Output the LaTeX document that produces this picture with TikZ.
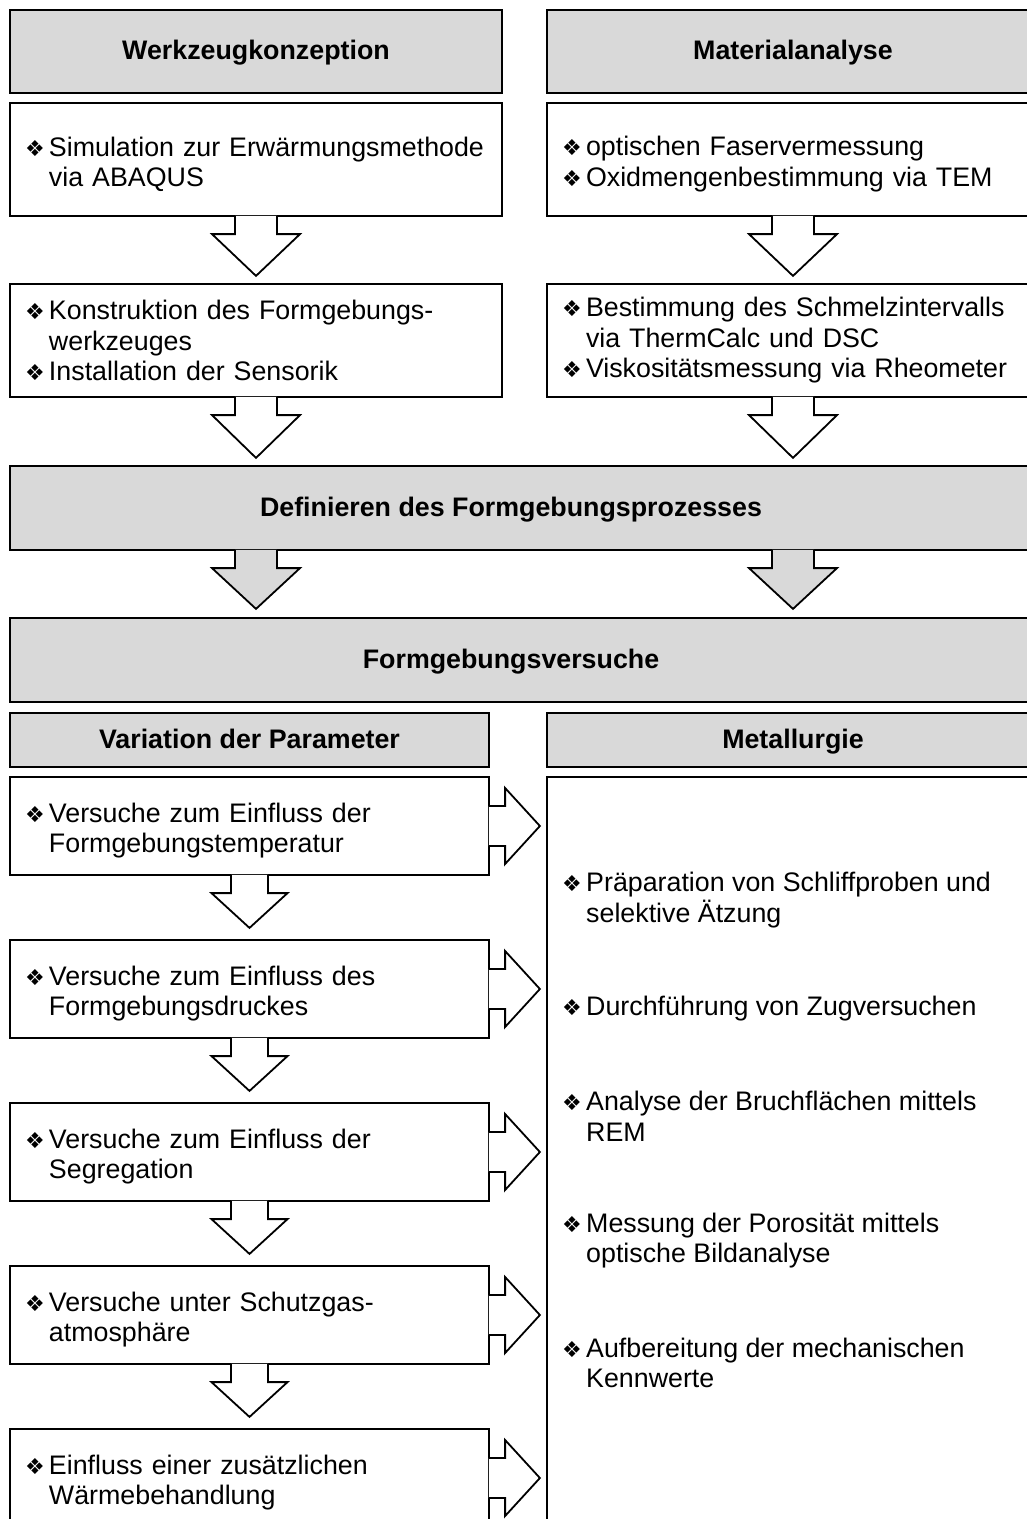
\documentclass[tikz,border=0pt]{standalone}
\usepackage{fontspec}
\setmainfont{Liberation Sans}
\newfontfamily\symfont{DejaVu Sans}
\usetikzlibrary{calc}
\definecolor{boxgray}{RGB}{217,217,217}
\setlength{\parindent}{0pt}

\newcommand{\bul}{\makebox[24pt][l]{\symfont\fontsize{22pt}{22pt}\selectfont ❖}}
\newcommand{\gap}{\makebox[24pt]{}}
\newcommand{\up}{\rule{0pt}{29pt}}

% block arrows: style, base, tip, shaft half width, head half width, shaft length
\newcommand{\blockdown}[6]{%
  \path[#1] let \p1=#2, \p2=#3 in
    (\x1-#4pt,\y1+1.2pt) -- (\x1-#4pt,\y1-#6pt) -- (\x1-#5pt,\y1-#6pt) -- (\x1,\y2)
    -- (\x1+#5pt,\y1-#6pt) -- (\x1+#4pt,\y1-#6pt) -- (\x1+#4pt,\y1+1.2pt);
}
\newcommand{\blockright}[6]{%
  \path[#1] let \p1=#2, \p2=#3 in
    (\x1-1.2pt,\y1+#4pt) -- (\x1+#6pt,\y1+#4pt) -- (\x1+#6pt,\y1+#5pt) -- (\x2,\y1)
    -- (\x1+#6pt,\y1-#5pt) -- (\x1+#6pt,\y1-#4pt) -- (\x1-1.2pt,\y1-#4pt);
}

\tikzset{
  headbox/.style={draw, line width=2.2pt, fill=boxgray, inner sep=0pt, text height=20pt, text depth=4pt, font=\bfseries\fontsize{26.8pt}{30.5pt}\selectfont},
  itembox/.style={draw, line width=2.2pt, fill=white, text width=462pt, inner xsep=15pt, align=left, font=\fontsize{26.8pt}{30.5pt}\selectfont},
  itemtext/.style={inner sep=0pt, align=left, anchor=west, font=\fontsize{26.8pt}{30.5pt}\selectfont},
  arr/.style={draw, line width=1.8pt, fill=white, line join=miter},
  grayarr/.style={arr, fill=boxgray},
}

\begin{document}
\begin{tikzpicture}[x=1pt,y=-1pt]
  \useasboundingbox (0,0) rectangle (1027,1519);
  \clip (0,0) rectangle (1027,1519);

  \node[headbox, minimum width=492pt, minimum height=83pt] (wk) at (256,51.5) {Werkzeugkonzeption};
  \node[headbox, minimum width=492pt, minimum height=83pt] (ma) at (793,51.5) {Materialanalyse};

  \node[itembox, minimum height=113pt] (wk1) at (256,159.5) {\up\bul Simulation zur Erwärmungsmethode\\\gap via ABAQUS};
  \node[itembox, minimum height=113pt] (ma1) at (793,159.5) {\up\bul optischen Faservermessung\\\bul Oxidmengenbestimmung via TEM};

  \node[itembox, minimum height=113pt] (wk2) at (256,340.5) {\bul Konstruktion des Formgebungs-\\\gap werkzeuges\\\bul Installation der Sensorik};
  \node[itembox, minimum height=113pt] (ma2) at (793,340.5) {\bul Bestimmung des Schmelzintervalls\\\gap via ThermCalc und DSC\\\bul Viskositätsmessung via Rheometer};

  \node[headbox, minimum width=1029pt, minimum height=84pt] (def) at (524.5,508) {};
  \node[headbox, draw=none, fill=none] (deft) at (511,508) {Definieren des Formgebungsprozesses};
  \node[headbox, minimum width=1029pt, minimum height=84pt] (fv) at (524.5,660) {};
  \node[headbox, draw=none, fill=none] (fvt) at (511,660) {Formgebungsversuche};

  \node[headbox, minimum width=479pt, minimum height=54pt] (vp) at (249.5,740) {Variation der Parameter};
  \node[headbox, minimum width=492pt, minimum height=54pt] (mth) at (793,740) {Metallurgie};

  \node[itembox, text width=449pt, minimum height=98pt] (v1) at (249.5,826) {\up\bul Versuche zum Einfluss der\\\gap Formgebungstemperatur};
  \node[itembox, text width=449pt, minimum height=98pt] (v2) at (249.5,989) {\up\bul Versuche zum Einfluss des\\\gap Formgebungsdruckes};
  \node[itembox, text width=449pt, minimum height=98pt] (v3) at (249.5,1152) {\up\bul Versuche zum Einfluss der\\\gap Segregation};
  \node[itembox, text width=449pt, minimum height=98pt] (v4) at (249.5,1315) {\up\bul Versuche unter Schutzgas-\\\gap atmosphäre};
  \node[itembox, text width=449pt, minimum height=98pt] (v5) at (249.5,1478) {\up\bul Einfluss einer zusätzlichen\\\gap Wärmebehandlung};

  \node[itembox, minimum height=823pt] (mt) at (793,1188.5) {};
  \node[itemtext] (m1) at (562,900) {\bul Präparation von Schliffproben und\\\gap selektive Ätzung};
  \node[itemtext] (m2) at (562,1009) {\bul Durchführung von Zugversuchen};
  \node[itemtext] (m3) at (562,1116.5) {\bul Analyse der Bruchflächen mittels\\\gap REM};
  \node[itemtext] (m4) at (562,1240.5) {\bul Messung der Porosität mittels\\\gap optische Bildanalyse};
  \node[itemtext] (m5) at (562,1363) {\bul Aufbereitung der mechanischen\\\gap Kennwerte};

  \blockdown{arr}{(wk1.south)}{($(wk2.north)+(0,-7)$)}{21}{44}{17}
  \blockdown{arr}{(ma1.south)}{($(ma2.north)+(0,-7)$)}{21}{44}{17}
  \blockdown{arr}{(wk2.south)}{($(def.north)+(0,-7)$)}{21}{44}{17}
  \blockdown{arr}{(ma2.south)}{($(def.north)+(0,-7)$)}{21}{44}{17}
  \blockdown{grayarr}{(wk.south |- def.south)}{($(fv.north)+(0,-8)$)}{21}{44}{17}
  \blockdown{grayarr}{(ma.south |- def.south)}{($(fv.north)+(0,-8)$)}{21}{44}{17}

  \blockdown{arr}{(v1.south)}{($(v2.north)+(0,-11)$)}{18.5}{38}{17}
  \blockdown{arr}{(v2.south)}{($(v3.north)+(0,-11)$)}{18.5}{38}{17}
  \blockdown{arr}{(v3.south)}{($(v4.north)+(0,-11)$)}{18.5}{38}{17}
  \blockdown{arr}{(v4.south)}{($(v5.north)+(0,-11)$)}{18.5}{38}{17}

  \foreach \v in {v1,v2,v3,v4,v5}
    \blockright{arr}{(\v.east)}{($(mt.west)+(-6,0)$)}{20}{38}{15};
\end{tikzpicture}
\end{document}
